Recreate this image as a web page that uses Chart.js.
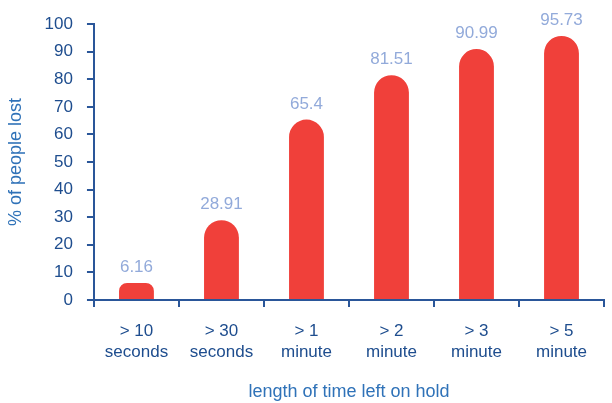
<!DOCTYPE html>
<html>
<head>
<meta charset="utf-8">
<script src="https://cdn.jsdelivr.net/npm/chart.js@4/dist/chart.umd.min.js"></script>
<style>
  html, body { margin: 0; padding: 0; background: #fff; }
  #wrap { width: 612px; height: 403px; }
</style>
</head>
<body>
<div id="wrap"><canvas id="holdChart"></canvas></div>
<script>
const categories = [['> 10', 'seconds'], ['> 30', 'seconds'], ['> 1', 'minute'], ['> 2', 'minute'], ['> 3', 'minute'], ['> 5', 'minute']];
const lostPct = [6.16, 28.91, 65.4, 81.51, 90.99, 95.73];
const yTicks = [0, 10, 20, 30, 40, 50, 60, 70, 80, 90, 100];

const axisBlue = '#2A5699';
const font = 'Liberation Sans, Arial, sans-serif';

// labels over the bars
const valueLabels = {
    id: 'valueLabels',
    afterDatasetsDraw(chart) {
        const c = chart.ctx;
        const meta = chart.getDatasetMeta(0);
        c.save();
        c.font = '17px ' + font;
        c.fillStyle = '#92AADA';
        c.textAlign = 'center';
        c.textBaseline = 'bottom';
        meta.data.forEach((bar, i) => {
            c.fillText(String(lostPct[i]), bar.x, bar.y - 7);
        });
        c.restore();
    }
};

new Chart(document.getElementById('holdChart'), {
    type: 'bar',
    data: {
        labels: categories,
        datasets: [{
            data: lostPct,
            backgroundColor: '#F0403A',
            borderRadius: { topLeft: 18, topRight: 18 },
            borderSkipped: 'bottom',
            categoryPercentage: 0.41,
            barPercentage: 1
        }]
    },
    options: {
        responsive: true,
        maintainAspectRatio: false,
        animation: false,
        layout: { padding: { top: 14, right: 8, left: 5, bottom: 0 } },
        plugins: {
            legend: { display: false },
            tooltip: { enabled: false }
        },
        scales: {
            x: {
                grid: {
                    offset: true,
                    drawOnChartArea: false,
                    drawTicks: true,
                    tickLength: 7,
                    color: axisBlue,
                    lineWidth: 2
                },
                border: { color: axisBlue, width: 2 },
                ticks: {
                    color: '#1E4D8E',
                    font: { family: font, size: 17, lineHeight: 1.25 },
                    padding: 14,
                    maxRotation: 0
                },
                title: {
                    display: true,
                    text: 'length of time left on hold',
                    color: '#2F72B8',
                    font: { family: font, size: 18 },
                    padding: { top: 4, bottom: 0 }
                }
            },
            y: {
                min: 0,
                max: 100,
                afterBuildTicks(axis) {
                    axis.ticks = yTicks.map(v => ({ value: v }));
                },
                grid: {
                    drawOnChartArea: false,
                    drawTicks: true,
                    tickLength: 7,
                    color: axisBlue,
                    lineWidth: 2
                },
                border: { color: axisBlue, width: 2 },
                ticks: {
                    color: '#1E4D8E',
                    font: { family: font, size: 17 },
                    padding: 14
                },
                title: {
                    display: true,
                    text: '% of people lost',
                    color: '#2F72B8',
                    font: { family: font, size: 18 },
                    padding: { top: 0, bottom: 4 }
                }
            }
        }
    },
    plugins: [valueLabels]
});
</script>
</body>
</html>
